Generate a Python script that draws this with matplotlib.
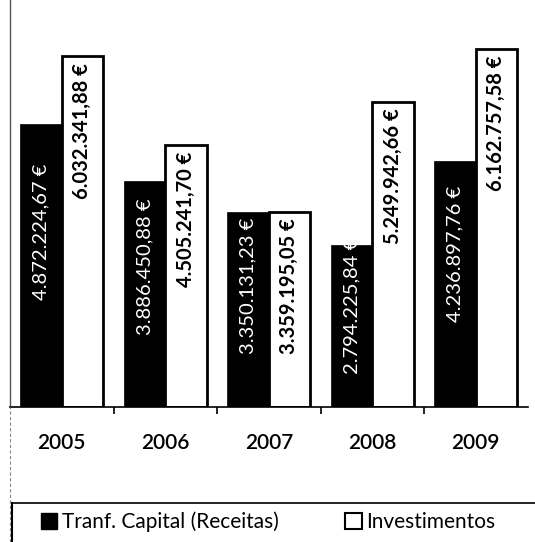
import matplotlib
matplotlib.use("Agg")
import matplotlib.pyplot as plt
from matplotlib.patches import Patch
from matplotlib.lines import Line2D
import numpy as np

years = ["2005", "2006", "2007", "2008", "2009"]
receitas = [4872224.67, 3886450.88, 3350131.23, 2794225.84, 4236897.76]
investimentos = [6032341.88, 4505241.70, 3359195.05, 5249942.66, 6162757.58]
series_names = ["Tranf. Capital (Receitas)", "Investimentos"]

plt.rcParams['font.family'] = ['Lato', 'DejaVu Sans']


def fmt_eur(v):
    s = f"{v:,.2f}"
    s = s.replace(",", "X").replace(".", ",").replace("X", ".")
    return s + " €"


W, H = 535, 542
fig = plt.figure(figsize=(W / 100, H / 100), dpi=100)
ax = fig.add_axes([10 / W, 135 / H, 517.5 / W, 407 / H])

x = np.arange(len(years))
bw = 0.4
b1 = ax.bar(x - 0.2, receitas, width=bw, color="black", edgecolor="black", linewidth=0.5)
b2 = ax.bar(x + 0.2, investimentos, width=bw, color="white", edgecolor="black", linewidth=2)

ax.set_xlim(-0.5, len(years) - 0.5)
ax.set_ylim(0, 7e6)

for xi, v in zip(x, receitas):
    ax.text(xi - 0.2, v * 0.62, fmt_eur(v), rotation=90, ha="center", va="center",
            color="white", fontsize=14.5, fontweight="normal")
for xi, v in zip(x, investimentos):
    ax.annotate(fmt_eur(v), (xi + 0.2, v), xytext=(0, -5), textcoords="offset points",
                rotation=90, ha="center", va="top", color="black", fontsize=14.5,
                fontweight="bold")

for s in ["top", "right"]:
    ax.spines[s].set_visible(False)
ax.spines["bottom"].set_linewidth(1.2)
ax.spines["left"].set_linewidth(1.0)
ax.spines["left"].set_color("#555555")
ax.set_yticks([])
ax.set_xticks(x)
ax.set_xticklabels(years, fontsize=15, fontweight="semibold")
ax.tick_params(axis="x", which="major", length=0, pad=19)
ax.set_xticks(np.arange(0.5, len(years) - 1, 1), minor=True)
ax.tick_params(axis="x", which="minor", length=5, width=1.2, direction="out")

# outer frame / legend box lines
fig.add_artist(Line2D([10 / W, 10 / W], [0, 135 / H], color="#888888", linewidth=0.8,
                      linestyle=(0, (3, 2)), transform=fig.transFigure))
fig.add_artist(Line2D([12 / W, 12 / W], [0, (H - 503) / H], color="black", linewidth=1.5,
                      transform=fig.transFigure))
fig.add_artist(Line2D([12 / W, 1], [(H - 503) / H, (H - 503) / H], color="black",
                      linewidth=1.2, transform=fig.transFigure))

handles = [Patch(facecolor="black", edgecolor="black"),
           Patch(facecolor="white", edgecolor="black", linewidth=1.5)]
fig.legend(handles, series_names, loc="center", bbox_to_anchor=(268 / W, (H - 522) / H),
           ncol=2, frameon=False, fontsize=15, handlelength=0.8, handleheight=0.8,
           handletextpad=0.2, columnspacing=3.2)

fig.savefig("out.png", dpi=100)
